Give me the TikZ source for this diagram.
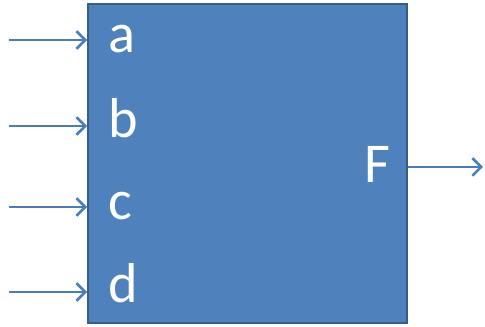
\documentclass[tikz,border=0pt]{standalone}
\usepackage{fontspec}
\setmainfont{Carlito}
\usetikzlibrary{arrows.meta, positioning}

\definecolor{boxblue}{HTML}{4F81BD}
\definecolor{boxedge}{HTML}{385D8A}
\definecolor{wireblue}{HTML}{4A7EBB}

\begin{document}
\begin{tikzpicture}[
    x=0.02cm, y=0.02cm,
    >={Straight Barb[length=5pt, width=10pt, line width=1.5pt]},
    gate/.style={draw=boxedge, fill=boxblue, line width=1pt,
                 minimum width=6.38cm, minimum height=6.38cm, inner sep=0pt},
    pin/.style={text=white, font=\fontsize{32}{38}\selectfont,
                inner sep=0pt, anchor=base west},
    wire/.style={->, draw=wireblue, line width=1.5pt}
  ]
  \useasboundingbox (0,0) rectangle (485,327);

  % Block
  \node[gate] (blk) at (247.5,163.5) {};

  % Inputs
  \coordinate (ina) at (9,287);
  \coordinate (inb) at (9,201);
  \coordinate (inc) at (9,120);
  \coordinate (ind) at (9,35);

  \node[pin] (a) at (108,274) {a};
  \node[pin] (b) at (108,189) {b};
  \node[pin] (c) at (108,107) {c};
  \node[pin] (d) at (108,24) {d};

  % Output
  \node[pin] (F) at (364,144) {F};
  \coordinate (outF) at (483,160);

  \foreach \i in {ina,inb,inc,ind}
    \draw[wire] (\i) -- (\i -| blk.west);
  \draw[wire] (blk.east |- outF) -- (outF);
\end{tikzpicture}
\end{document}
